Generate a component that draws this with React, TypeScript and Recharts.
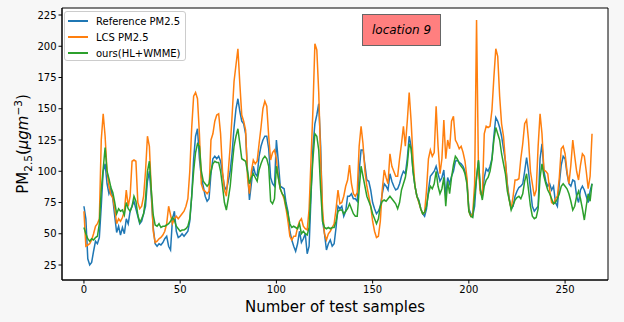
import React from 'react';
import { LineChart, Line, XAxis, YAxis, CartesianGrid, ReferenceArea } from 'recharts';

// sample values (index = test sample number)
const refPM = [
  72, 62, 30, 25, 27, 36, 44, 42, 47, 72,
  100, 106, 90, 82, 86, 78, 64, 51, 56, 49,
  55, 50, 62, 58, 68, 72, 76, 70, 64, 58,
  60, 66, 72, 92, 100, 80, 55, 42, 40, 42,
  41, 43, 46, 48, 40, 37, 62, 68, 52, 47,
  48, 50, 48, 50, 52, 60, 80, 110, 128, 134,
  110, 95, 88, 80, 76, 78, 98, 110, 112, 110,
  112, 108, 98, 88, 85, 92, 100, 115, 135, 150,
  158, 148, 140, 138, 130, 100, 77, 90, 104, 98,
  96, 112, 120, 125, 128, 128, 118, 95, 90, 88,
  125, 108, 88, 87, 86, 75, 68, 52, 45, 40,
  36, 42, 52, 43, 46, 50, 34, 40, 80, 120,
  138, 145, 154, 120, 60, 50, 37, 42, 45, 40,
  42, 55, 72, 70, 72, 64, 68, 80, 80, 82,
  78, 78, 76, 100, 117, 117, 105, 93, 92, 85,
  75, 70, 66, 68, 72, 82, 90, 88, 85, 98,
  92, 88, 85, 86, 90, 96, 100, 98, 110, 128,
  120, 100, 88, 80, 77, 70, 66, 64, 70, 85,
  96, 98, 100, 104, 98, 92, 95, 101, 80, 95,
  90, 96, 100, 108, 109, 107, 106, 104, 100, 92,
  70, 66, 64, 72, 95, 108, 85, 80, 95, 102,
  100, 104, 110, 128, 143, 140, 135, 128, 118, 108,
  90, 78, 70, 72, 80, 84, 87, 88, 90, 100,
  111, 100, 86, 72, 68, 70, 72, 110, 122, 100,
  92, 88, 90, 85, 88, 75, 72, 90, 105, 112,
  110, 98, 90, 88, 93, 92, 80, 75, 85, 88,
  85, 80, 75, 84, 90,
];

const lcsPM = [
  68, 40, 41, 42, 45, 50, 56, 58, 62, 125,
  146, 128, 100, 88, 81, 79, 70, 58, 62, 60,
  63, 68, 85, 72, 80, 108, 109, 108, 75, 70,
  72, 80, 100, 128, 120, 85, 52, 43, 44, 46,
  47, 49, 52, 58, 72, 65, 58, 62, 64, 62,
  64, 66, 68, 72, 78, 100, 135, 160, 163, 158,
  130, 90, 85, 84, 82, 84, 125, 130, 140, 145,
  146, 130, 100, 85, 80, 100, 120, 145, 172, 185,
  198, 170, 145, 140, 133, 95, 82, 100, 109, 106,
  108, 122, 135, 150, 156, 152, 128, 109, 115, 117,
  110, 95, 86, 82, 78, 70, 60, 48, 45, 48,
  48, 55, 60, 62, 56, 54, 53, 70, 110, 150,
  202, 197, 163, 110, 69, 50, 45, 50, 52, 55,
  58, 70, 85, 74, 75, 80, 88, 93, 105, 90,
  82, 80, 83, 120, 136, 122, 100, 88, 80, 72,
  60, 52, 47, 48, 60, 85, 101, 95, 90, 114,
  104, 100, 96, 96, 110, 122, 136, 120, 140, 163,
  140, 110, 88, 80, 75, 70, 66, 67, 85, 110,
  117, 112, 115, 152, 120, 98, 110, 141, 110, 125,
  118, 140, 144, 125, 122, 118, 120, 115, 108, 95,
  68, 64, 66, 90, 221, 100, 82, 80, 130, 136,
  135, 136, 149, 175, 198, 192, 160, 138, 128, 108,
  88, 77, 70, 80, 93, 93, 94, 110, 122, 138,
  141, 125, 100, 90, 80, 85, 120, 146, 130, 101,
  100, 98, 85, 75, 74, 78, 80, 95, 118, 120,
  114, 100, 90, 105, 125, 112, 100, 93, 105, 114,
  112, 100, 86, 96, 130,
];

const oursPM = [
  55, 50, 46, 44, 46, 45, 47, 48, 58, 85,
  102, 119, 100, 94, 87, 83, 75, 66, 70, 68,
  69, 65, 75, 70, 68, 72, 80, 76, 65, 59,
  62, 66, 78, 100, 108, 85, 65, 57, 56, 58,
  55, 56, 56, 57, 58, 60, 63, 61, 56, 54,
  52, 53, 53, 54, 56, 62, 80, 100, 115, 122,
  120, 100, 92, 90, 88, 90, 100, 106, 108, 107,
  107, 100, 88, 75, 69, 78, 88, 105, 120, 128,
  134, 122, 110, 109, 108, 100, 90, 95, 98, 95,
  92, 101, 106, 110, 112, 110, 104, 76, 74, 78,
  104, 95, 86, 82, 80, 72, 66, 58, 55, 56,
  55, 54, 58, 50, 52, 50, 49, 55, 85, 110,
  130, 128, 117, 85, 60, 55, 54, 55, 54, 55,
  55, 60, 68, 69, 69, 66, 68, 70, 74, 70,
  66, 64, 64, 85, 104, 96, 88, 80, 76, 72,
  66, 62, 58, 62, 72, 76, 77, 76, 78, 80,
  78, 76, 74, 70, 75, 85, 90, 95, 105, 122,
  118, 100, 88, 80, 76, 70, 66, 67, 72, 82,
  88, 86, 90, 100, 88, 82, 86, 95, 72, 92,
  82, 95, 105, 112, 110, 106, 104, 102, 98, 90,
  68, 64, 63, 80, 95, 109, 85, 77, 88, 93,
  95, 100, 109, 125, 135, 130, 125, 114, 106, 98,
  84, 77, 69, 73, 77, 79, 80, 78, 82, 92,
  98, 85, 72, 64, 62, 63, 70, 95, 106, 96,
  90, 85, 82, 78, 74, 75, 78, 82, 88, 90,
  88, 86, 82, 76, 69, 72, 80, 84, 78, 70,
  61, 72, 82, 76, 90,
];

const xTicks = [0, 50, 100, 150, 200, 250];
const yTicks = [25, 50, 75, 100, 125, 150, 175, 200, 225];
const seriesNames = ['Reference PM2.5', 'LCS PM2.5', 'ours(HL+WMME)'];
const seriesKeys = ['ref', 'lcs', 'ours'];
const seriesColors = ['#1f77b4', '#ff7f0e', '#2ca02c'];

const X_DOMAIN: [number, number] = [-11.4, 272.3];
const Y_DOMAIN: [number, number] = [13, 230.6];

const FONT = '"DejaVu Sans", sans-serif';

const data = refPM.map((v, i) => ({ n: i, ref: v, lcs: lcsPM[i], ours: oursPM[i] }));

const YLabel = () => (
  <text
    transform="translate(28,144) rotate(-90)"
    textAnchor="middle"
    fontFamily={FONT}
    fontSize={15}
    fill="#000"
  >
    PM<tspan fontSize={10.5} dy={4}>2.5</tspan>
    <tspan dy={-4}>(</tspan>
    <tspan fontStyle="italic">μgm</tspan>
    <tspan fontSize={10.5} dy={-6}>−3</tspan>
    <tspan dy={6}>)</tspan>
  </text>
);

const XLabel = () => (
  <text x={335} y={312} textAnchor="middle" fontFamily={FONT} fontSize={15} fill="#000">
    Number of test samples
  </text>
);

export default function App() {
  return (
    <div
      style={{
        position: 'fixed',
        left: 0,
        top: 0,
        width: 624,
        height: 322,
        background: '#f7f7f7',
        fontFamily: FONT,
      }}
    >
      <LineChart
        width={624}
        height={322}
        data={data}
        margin={{ top: 8, right: 16, bottom: 0, left: 0 }}
      >
        <CartesianGrid horizontal={false} vertical={false} fill="#ffffff" />
        <XAxis
          dataKey="n"
          type="number"
          domain={X_DOMAIN}
          allowDataOverflow
          ticks={xTicks}
          height={42}
          tickSize={3.5}
          tickMargin={2}
          stroke="#000"
          tick={{ fill: '#000', fontSize: 10, fontFamily: FONT }}
          label={{ content: () => <XLabel /> }}
        />
        <YAxis
          type="number"
          domain={Y_DOMAIN}
          allowDataOverflow
          ticks={yTicks}
          width={62}
          tickSize={3.5}
          tickMargin={2}
          stroke="#000"
          tick={{ fill: '#000', fontSize: 10, fontFamily: FONT }}
          label={{ content: () => <YLabel /> }}
        />
        <ReferenceArea
          x1={X_DOMAIN[0]}
          x2={X_DOMAIN[1]}
          y1={Y_DOMAIN[0]}
          y2={Y_DOMAIN[1]}
          fill="none"
          stroke="#000"
          strokeWidth={1}
        />
        {seriesKeys.map((k, i) => (
          <Line
            key={k}
            type="linear"
            dataKey={k}
            name={seriesNames[i]}
            stroke={seriesColors[i]}
            strokeWidth={1.5}
            dot={false}
            isAnimationActive={false}
          />
        ))}
      </LineChart>

      {/* legend box, upper left */}
      <div
        style={{
          position: 'absolute',
          left: 64,
          top: 11,
          width: 122,
          height: 50,
          boxSizing: 'border-box',
          background: 'rgba(255,255,255,0.8)',
          border: '1px solid #cccccc',
          borderRadius: 3,
          fontSize: 10,
          color: '#000',
        }}
      >
        {seriesNames.map((name, i) => (
          <div
            key={name}
            style={{ position: 'absolute', left: 3, top: 2 + i * 16, height: 14, display: 'flex', alignItems: 'center' }}
          >
            <div style={{ width: 20, height: 1.5, background: seriesColors[i] }} />
            <span style={{ marginLeft: 8, whiteSpace: 'nowrap' }}>{name}</span>
          </div>
        ))}
      </div>

      {/* location annotation */}
      <div
        style={{
          position: 'absolute',
          left: 362,
          top: 14,
          width: 79,
          height: 32,
          boxSizing: 'border-box',
          background: '#ff7f7f',
          border: '1px solid #666',
          display: 'flex',
          alignItems: 'center',
          justifyContent: 'center',
          fontStyle: 'italic',
          fontSize: 12,
          color: '#000',
        }}
      >
        location 9
      </div>
    </div>
  );
}
